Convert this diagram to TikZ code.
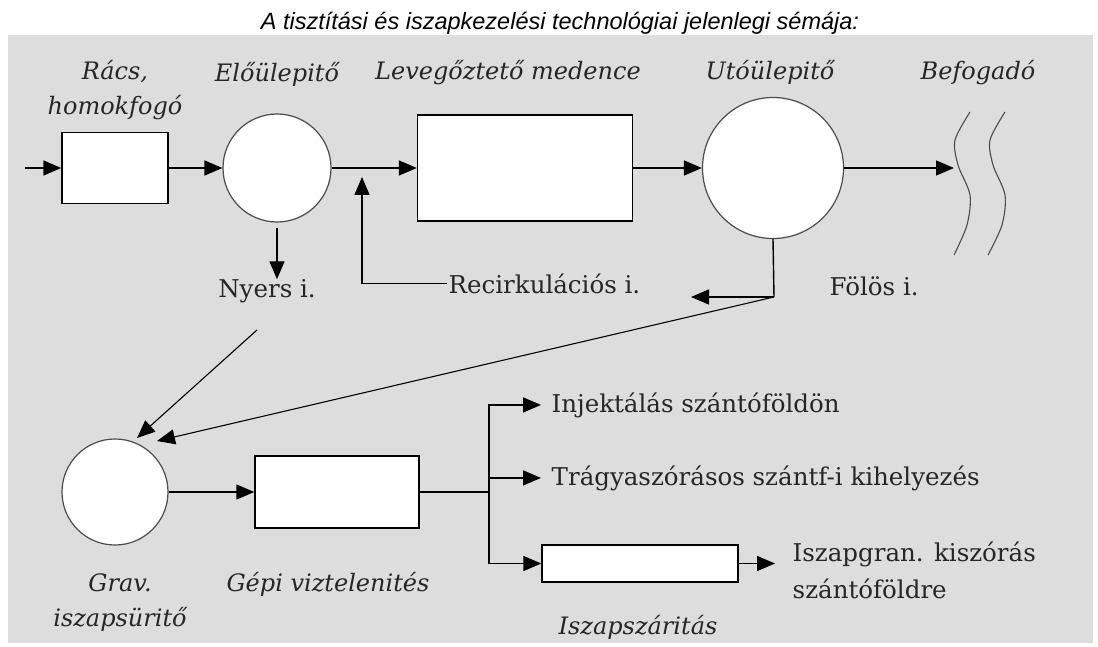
\documentclass[tikz,border=0pt]{standalone}
\usepackage{fontspec}
\setmainfont{DejaVu Serif}
\newfontfamily\titlefont{Liberation Sans}
\usetikzlibrary{arrows.meta}
\definecolor{panelgray}{RGB}{221,221,221}

\begin{document}
\begin{tikzpicture}[
				x = 1pt, y = -1pt, % pixel grid, y grows downwards
				> = {Triangle[length=18pt,width=15pt]}, % arrow head style
				line width = 1.4pt, % line style
				box/.style = {rectangle, draw, fill=white, inner sep=0pt},
				tank/.style = {circle, draw=black!70, fill=white, line width=1.2pt, inner sep=0pt},
				lbl/.style = {font=\fontsize{24}{35}\selectfont\itshape, text=black!85, inner sep=0pt, anchor=base, align=center},
				txt/.style = {font=\fontsize{24.5}{37}\selectfont, text=black!85, inner sep=0pt},
				wave/.style = {draw=black!70, line width=1.1pt}
				]
				
				\useasboundingbox (0,0) rectangle (1098,647);
				\fill[panelgray] (8,35) rectangle (1093,643);
				\node[anchor=base, font=\titlefont\fontsize{23.5}{28}\selectfont\itshape] (title) at (560,30)
					{A tisztítási és iszapkezelési technológiai jelenlegi sémája:};
				
				% water line
				\node[box, minimum width=106pt, minimum height=71pt] (racs) at (115,168) {};
				\node[tank, minimum size=108pt] (elo) at (277,168) {};
				\node[box, minimum width=215pt, minimum height=106pt] (lev) at (525,168) {};
				\node[tank, minimum size=141pt] (uto) at (773,168) {};
				
				% last line of a two-line label sits on the given point
				\node[lbl] (lracs) at (115,115) {Rács,\\homokfogó};
				\node[lbl] (lelo) at (277,82) {Előülepitő};
				\node[lbl] (llev) at (508,80) {Levegőztető medence};
				\node[lbl] (luto) at (770,80) {Utóülepitő};
				\node[lbl] (lbef) at (978,80) {Befogadó};
				
				\draw[wave] plot[smooth] coordinates {(970,112) (955,140) (958,165) (970,195) (967,225) (954,255)};
				\draw[wave] plot[smooth] coordinates {(1005,112) (990,140) (993,165) (1005,195) (1002,225) (988,255)};
				
				\coordinate (in) at (25,168);
				\coordinate (bef) at (954,168);
				\path[->] (in) edge (racs);
				\path[->] (racs) edge (elo);
				\path[->] (elo) edge (lev);
				\path[->] (lev) edge (uto);
				\path[->] (uto) edge (bef);
				
				% sludge returns
				\node[txt, anchor=base] (nyers) at (267,298) {Nyers i.};
				\node[txt, anchor=base west, inner xsep=1pt] (recirc) at (447,293) {Recirkulációs i.};
				\node[txt, anchor=base west] (folos) at (829,295) {Fölös i.};
				
				\coordinate (rtip) at (362,177);
				\coordinate (fsplit) at (774,297);
				\coordinate (fret) at (691,297);
				\coordinate (nstart) at (257,330);
				\coordinate (ntip) at (137,438);
				\coordinate (ftip) at (157,441);
				
				\draw[->, shorten <=5pt] (elo.south) -- (elo.south |- nyers.north);
				\draw[->] (recirc.west) -| (rtip);
				\draw (uto.south) -- (fsplit);
				\draw[->] (fsplit) -- (fret);
				\draw[->, line width=1.1pt] (fsplit) -- (ftip);
				\draw[->, line width=1.1pt] (nstart) -- (ntip);
				
				% sludge line
				\node[tank, minimum size=106pt] (grav) at (115,492) {};
				\node[box, minimum width=164pt, minimum height=72pt] (gep) at (337,492) {};
				\node[box, minimum width=196pt, minimum height=37pt] (szar) at (640,563.5) {};
				
				\node[lbl] (lgrav) at (120,626) {Grav.\\iszapsüritő};
				\node[lbl] (lgep) at (328,591) {Gépi viztelenités};
				\node[lbl] (lszar) at (638,634) {Iszapszáritás};
				
				\node[txt, anchor=base west, inner xsep=10pt] (inj) at (541,412) {Injektálás szántóföldön};
				\node[txt, anchor=base west, inner xsep=10pt] (trag) at (541,485) {Trágyaszórásos szántf-i kihelyezés};
				\node[txt, anchor=base west, inner xsep=17pt, align=left] (gran) at (775,598) {Iszapgran. kiszórás\\szántóföldre};
				
				\coordinate (split) at (489,492);
				\path[->] (grav) edge (gep);
				\draw (gep) -- (split);
				\draw[->] (split) |- (inj.west);
				\draw[->] (split) |- (trag.west);
				\draw[->] (split) |- (szar.west);
				\draw[->] (szar) -- (szar -| gran.west);
				
\end{tikzpicture}
\end{document}
